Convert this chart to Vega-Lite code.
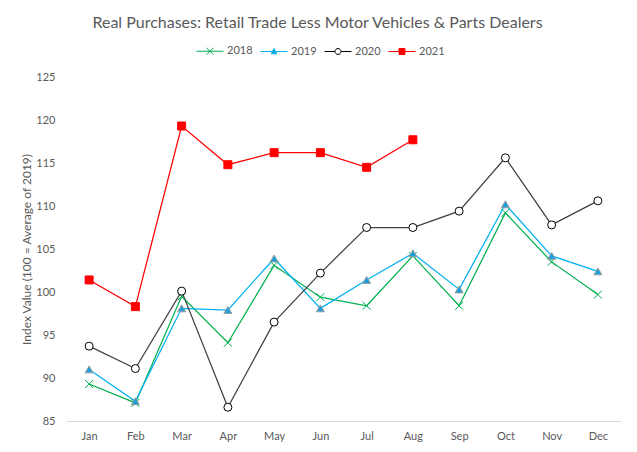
{
  "$schema": "https://vega.github.io/schema/vega-lite/v6.json",
  "autosize": "none",
  "width": 555,
  "height": 344,
  "padding": {"left": 66, "top": 77, "right": 16, "bottom": 31},
  "background": "white",
  "title": {
    "text": "Real Purchases: Retail Trade Less Motor Vehicles & Parts Dealers",
    "font": "Lato",
    "fontSize": 16,
    "fontWeight": "normal",
    "color": "#595959",
    "anchor": "middle",
    "offset": 6,
    "dx": -26
  },
  "data": {
    "values": [
      {"month": "Jan", "year": "2018", "value": 89.3},
      {"month": "Feb", "year": "2018", "value": 87.1},
      {"month": "Mar", "year": "2018", "value": 99.5},
      {"month": "Apr", "year": "2018", "value": 94.1},
      {"month": "May", "year": "2018", "value": 103.1},
      {"month": "Jun", "year": "2018", "value": 99.4},
      {"month": "Jul", "year": "2018", "value": 98.4},
      {"month": "Aug", "year": "2018", "value": 104.2},
      {"month": "Sep", "year": "2018", "value": 98.4},
      {"month": "Oct", "year": "2018", "value": 109.2},
      {"month": "Nov", "year": "2018", "value": 103.5},
      {"month": "Dec", "year": "2018", "value": 99.7},
      {"month": "Jan", "year": "2019", "value": 91.0},
      {"month": "Feb", "year": "2019", "value": 87.3},
      {"month": "Mar", "year": "2019", "value": 98.1},
      {"month": "Apr", "year": "2019", "value": 97.9},
      {"month": "May", "year": "2019", "value": 103.9},
      {"month": "Jun", "year": "2019", "value": 98.1},
      {"month": "Jul", "year": "2019", "value": 101.4},
      {"month": "Aug", "year": "2019", "value": 104.5},
      {"month": "Sep", "year": "2019", "value": 100.3},
      {"month": "Oct", "year": "2019", "value": 110.2},
      {"month": "Nov", "year": "2019", "value": 104.2},
      {"month": "Dec", "year": "2019", "value": 102.4},
      {"month": "Jan", "year": "2020", "value": 93.7},
      {"month": "Feb", "year": "2020", "value": 91.1},
      {"month": "Mar", "year": "2020", "value": 100.1},
      {"month": "Apr", "year": "2020", "value": 86.6},
      {"month": "May", "year": "2020", "value": 96.5},
      {"month": "Jun", "year": "2020", "value": 102.2},
      {"month": "Jul", "year": "2020", "value": 107.5},
      {"month": "Aug", "year": "2020", "value": 107.5},
      {"month": "Sep", "year": "2020", "value": 109.4},
      {"month": "Oct", "year": "2020", "value": 115.6},
      {"month": "Nov", "year": "2020", "value": 107.8},
      {"month": "Dec", "year": "2020", "value": 110.6},
      {"month": "Jan", "year": "2021", "value": 101.4},
      {"month": "Feb", "year": "2021", "value": 98.3},
      {"month": "Mar", "year": "2021", "value": 119.3},
      {"month": "Apr", "year": "2021", "value": 114.8},
      {"month": "May", "year": "2021", "value": 116.2},
      {"month": "Jun", "year": "2021", "value": 116.2},
      {"month": "Jul", "year": "2021", "value": 114.5},
      {"month": "Aug", "year": "2021", "value": 117.7}
    ]
  },
  "encoding": {
    "x": {
      "field": "month",
      "type": "ordinal",
      "sort": ["Jan", "Feb", "Mar", "Apr", "May", "Jun", "Jul", "Aug", "Sep", "Oct", "Nov", "Dec"],
      "axis": {
        "title": null,
        "labelAngle": 0,
        "ticks": false,
        "domainColor": "#D9D9D9",
        "labelPadding": 9,
        "grid": false
      }
    },
    "y": {
      "field": "value",
      "type": "quantitative",
      "scale": {"domain": [85, 125], "nice": false, "zero": false},
      "axis": {
        "title": "Index Value (100 = Average of 2019)",
        "values": [85, 90, 95, 100, 105, 110, 115, 120, 125],
        "domain": false,
        "ticks": false,
        "grid": false,
        "labelPadding": 11,
        "titlePadding": 2
      }
    }
  },
  "layer": [
    {
      "mark": {"type": "line", "strokeWidth": 1.25},
      "encoding": {
        "color": {
          "field": "year",
          "type": "nominal",
          "scale": {
            "domain": ["2018", "2019", "2020", "2021"],
            "range": ["#00B050", "#00B0F0", "#404040", "#FF0000"]
          },
          "legend": null
        }
      }
    },
    {
      "mark": {"type": "point", "filled": true, "strokeWidth": 1, "opacity": 1, "size": 64},
      "encoding": {
        "shape": {
          "field": "year",
          "type": "nominal",
          "scale": {
            "domain": ["2018", "2019", "2020", "2021"],
            "range": ["M-1,-1L1,1M-1,1L1,-1", "triangle-up", "circle", "square"]
          },
          "legend": null
        },
        "fill": {
          "field": "year",
          "type": "nominal",
          "scale": {
            "domain": ["2018", "2019", "2020", "2021"],
            "range": ["transparent", "#1A9EDC", "#FFFFFF", "#FF0000"]
          },
          "legend": null
        },
        "stroke": {
          "field": "year",
          "type": "nominal",
          "scale": {
            "domain": ["2018", "2019", "2020", "2021"],
            "range": ["#00B050", "#9E9E9E", "#000000", "#FF0000"]
          },
          "legend": null
        }
      }
    },
    {
      "transform": [{"filter": "datum.value < 0"}],
      "mark": {"type": "point", "filled": true, "strokeWidth": 1, "opacity": 1},
      "encoding": {
        "shape": {
          "field": "year",
          "type": "nominal",
          "scale": {
            "domain": ["2018", "2019", "2020", "2021"],
            "range": [
              "M-1,0L1,0M-0.26,-0.26L0.26,0.26M-0.26,0.26L0.26,-0.26",
              "M-1,0L1,0M0,-0.22L0.2,0.17L-0.2,0.17Z",
              "M-1,0L-0.22,0M0.22,0L1,0M0.22,0A0.22,0.22,0,1,1,-0.22,0A0.22,0.22,0,1,1,0.22,0Z",
              "M-1,0L1,0M-0.22,-0.22L0.22,-0.22L0.22,0.22L-0.22,0.22Z"
            ]
          },
          "legend": {
            "title": null,
            "orient": "none",
            "legendX": 130,
            "legendY": -40,
            "direction": "horizontal",
            "symbolSize": 729,
            "symbolStrokeWidth": 1,
            "columnPadding": 5,
            "labelOffset": 3
          }
        },
        "fill": {
          "field": "year",
          "type": "nominal",
          "scale": {
            "domain": ["2018", "2019", "2020", "2021"],
            "range": ["transparent", "#1A9EDC", "#FFFFFF", "#FF0000"]
          },
          "legend": {
            "title": null,
            "orient": "none",
            "legendX": 130,
            "legendY": -40,
            "direction": "horizontal",
            "symbolSize": 729,
            "symbolStrokeWidth": 1,
            "columnPadding": 5,
            "labelOffset": 3
          }
        },
        "stroke": {
          "field": "year",
          "type": "nominal",
          "scale": {
            "domain": ["2018", "2019", "2020", "2021"],
            "range": ["#00B050", "#00B0F0", "#000000", "#FF0000"]
          },
          "legend": {
            "title": null,
            "orient": "none",
            "legendX": 130,
            "legendY": -40,
            "direction": "horizontal",
            "symbolSize": 729,
            "symbolStrokeWidth": 1,
            "columnPadding": 5,
            "labelOffset": 3
          }
        }
      }
    }
  ],
  "resolve": {"scale": {"shape": "independent", "fill": "independent", "stroke": "independent"}},
  "config": {
    "view": {"stroke": null},
    "font": "Lato",
    "axis": {
      "labelFont": "Lato",
      "labelFontSize": 11,
      "labelColor": "#595959",
      "titleFont": "Lato",
      "titleFontSize": 12,
      "titleFontWeight": "normal",
      "titleColor": "#595959"
    },
    "legend": {
      "labelFont": "Lato",
      "labelFontSize": 11,
      "labelColor": "#595959"
    }
  }
}
